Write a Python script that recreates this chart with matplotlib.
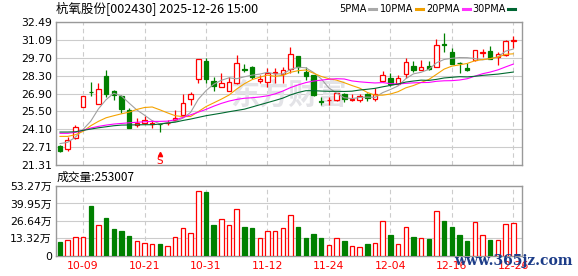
import numpy as np
import matplotlib
matplotlib.use("Agg")
import matplotlib.pyplot as plt
from matplotlib.patches import Rectangle

# daily candles 2025-09-26 .. 2025-12-26 (60 trading days)
opens = [22.84, 22.58, 23.43, 25.84, 27.03, 26.07, 28.27, 27.11, 26.69, 25.63,
         24.44, 24.62, 24.52, 24.55, 24.58, 24.86, 25.19, 26.51, 28.06, 29.41,
         27.88, 27.44, 27.06, 27.70, 28.84, 28.94, 27.88, 27.83, 28.48, 28.43,
         28.79, 29.82, 28.61, 28.32, 26.33, 26.36, 26.41, 26.87, 26.38, 26.41,
         26.87, 26.51, 27.91, 28.12, 27.62, 28.43, 29.05, 28.76, 29.05, 28.99,
         30.76, 30.13, 29.28, 28.89, 29.51, 30.06, 30.21, 29.77, 29.93, 30.96]
highs = [22.89, 23.51, 24.47, 26.69, 27.81, 27.75, 28.74, 27.18, 26.79, 25.76,
         24.98, 25.11, 24.83, 24.58, 24.83, 25.58, 26.87, 27.05, 29.57, 29.64,
         28.17, 28.53, 28.17, 29.93, 29.18, 29.05, 28.32, 28.92, 28.92, 28.99,
         30.50, 29.82, 28.99, 28.32, 26.59, 26.61, 26.95, 26.92, 26.87, 26.87,
         26.92, 27.31, 28.66, 28.53, 28.35, 29.69, 29.44, 29.51, 29.44, 31.11,
         31.58, 30.42, 29.33, 29.25, 30.26, 30.37, 30.60, 30.11, 31.07, 31.38]
lows = [22.35, 22.40, 23.35, 25.84, 26.72, 26.07, 26.59, 26.36, 25.42, 24.18,
        24.26, 24.49, 24.21, 23.87, 24.41, 24.86, 25.11, 25.97, 27.70, 27.70,
        27.13, 27.44, 27.06, 27.62, 28.61, 28.01, 27.75, 27.37, 27.75, 27.75,
        28.48, 28.48, 27.96, 26.72, 25.97, 26.02, 26.33, 26.23, 26.33, 26.25,
        26.28, 26.28, 27.78, 27.52, 27.62, 28.09, 28.58, 28.74, 28.74, 28.99,
        30.16, 29.18, 28.53, 28.66, 29.46, 29.77, 29.57, 29.10, 29.82, 30.42]
closes = [22.42, 23.30, 24.29, 26.69, 26.98, 27.24, 26.90, 26.77, 25.68, 24.18,
          24.57, 24.83, 24.62, 24.50, 24.64, 25.01, 26.15, 26.87, 29.57, 28.01,
          27.49, 27.70, 27.81, 29.25, 28.74, 28.17, 28.06, 28.53, 28.61, 28.71,
          29.95, 28.94, 28.30, 26.80, 26.20, 26.41, 26.95, 26.48, 26.46, 26.67,
          26.54, 26.87, 28.32, 27.65, 28.09, 29.33, 28.74, 28.94, 28.79, 30.65,
          30.65, 29.18, 29.25, 28.74, 30.26, 30.16, 29.62, 29.95, 30.99, 31.07]
# volume in 万手
volumes = [10.3, 12.3, 14.6, 14.6, 37.7, 23.8, 28.7, 20.3, 18.7, 14.9,
           11.5, 10.0, 8.7, 8.7, 7.7, 14.6, 21.5, 17.7, 49.2, 48.5,
           23.3, 28.2, 23.1, 35.4, 21.8, 21.0, 13.3, 18.5, 19.2, 21.5,
           31.0, 21.8, 13.3, 16.4, 13.3, 8.5, 13.8, 11.0, 7.7, 6.9,
           8.7, 9.5, 26.9, 15.6, 9.2, 22.3, 14.1, 13.8, 12.6, 33.8,
           26.4, 21.8, 15.6, 11.0, 25.4, 15.6, 11.8, 12.3, 24.1, 25.3]

ma5 = [23.00, 23.10, 23.50, 24.10, 24.74, 25.70, 26.42, 26.92, 26.71, 26.15,
       25.62, 25.21, 24.78, 24.54, 24.63, 24.72, 24.98, 25.43, 26.45, 27.12,
       27.62, 27.93, 28.12, 28.05, 28.20, 28.33, 28.41, 28.55, 28.42, 28.42,
       28.77, 28.95, 28.90, 28.54, 28.04, 27.33, 26.93, 26.57, 26.50, 26.59,
       26.62, 26.60, 26.97, 27.21, 27.49, 28.05, 28.43, 28.55, 28.78, 29.29,
       29.55, 29.64, 29.70, 29.69, 29.62, 29.52, 29.61, 29.75, 30.20, 30.36]
ma10 = [23.56, 23.56, 23.69, 23.95, 24.39, 24.73, 25.01, 25.17, 25.32, 25.45,
        25.66, 25.81, 25.85, 25.63, 25.39, 25.17, 25.10, 25.11, 25.49, 25.88,
        26.17, 26.46, 26.78, 27.25, 27.66, 27.98, 28.17, 28.33, 28.24, 28.31,
        28.55, 28.68, 28.73, 28.48, 28.23, 28.05, 27.94, 27.74, 27.52, 27.32,
        26.98, 26.77, 26.77, 26.86, 27.04, 27.34, 27.52, 27.76, 27.99, 28.39,
        28.80, 29.03, 29.13, 29.24, 29.45, 29.54, 29.62, 29.73, 29.95, 29.99]
ma20 = [23.80, 23.80, 23.87, 24.03, 24.21, 24.34, 24.44, 24.52, 24.57, 24.62,
        24.66, 24.70, 24.73, 24.73, 24.75, 24.85, 25.04, 25.24, 25.45, 25.66,
        25.91, 26.13, 26.31, 26.44, 26.53, 26.57, 26.63, 26.72, 26.87, 27.09,
        27.36, 27.57, 27.75, 27.87, 27.94, 28.01, 28.05, 28.03, 27.88, 27.81,
        27.76, 27.72, 27.75, 27.67, 27.64, 27.69, 27.73, 27.75, 27.76, 27.85,
        27.89, 27.90, 27.95, 28.05, 28.25, 28.44, 28.57, 28.74, 28.97, 29.19]
ma30 = [23.90, 23.90, 23.92, 24.03, 24.13, 24.23, 24.31, 24.39, 24.44, 24.45,
        24.46, 24.47, 24.47, 24.52, 24.60, 24.67, 24.80, 24.91, 25.04, 25.17,
        25.27, 25.37, 25.48, 25.58, 25.68, 25.85, 26.02, 26.19, 26.36, 26.54,
        26.79, 26.98, 27.12, 27.12, 27.09, 27.07, 27.07, 27.06, 27.08, 27.17,
        27.23, 27.30, 27.42, 27.53, 27.64, 27.79, 27.87, 27.94, 27.92, 28.00,
        28.11, 28.16, 28.21, 28.19, 28.24, 28.31, 28.36, 28.41, 28.49, 28.57]

price_ticks = [21.31, 22.71, 24.10, 25.50, 26.90, 28.30, 29.70, 31.09, 32.49]
vol_ticks = [0, 13.32, 26.64, 39.95, 53.27]
vol_labels = ["0", "13.32万", "26.64万", "39.95万", "53.27万"]
date_pos = [3, 11, 19, 27, 35, 43, 51, 59]
date_labels = ["10-09", "10-21", "10-31", "11-12", "11-24", "12-04", "12-16", "12-26"]
signal_idx = 13  # "S" marker

RED = "#ff0000"
GREEN = "#008000"
W, H = 578, 276
fonts = ["DejaVu Sans", "Noto Sans CJK SC"]

fig = plt.figure(figsize=(W / 100, H / 100), dpi=100)


def box(l, t, r, b):
    return [l / W, 1 - b / H, (r - l) / W, (b - t) / H]


ax = fig.add_axes(box(56, 21.7, 522, 165.3))
axv = fig.add_axes(box(56, 186, 522, 255.7))

n = len(closes)
bw = 0.58
for a in (ax, axv):
    a.set_xlim(-0.52, 60.13)
    for s in a.spines.values():
        s.set_color("#999999")
        s.set_linewidth(1)
    for xi in date_pos:
        a.axvline(xi, color="#cccccc", lw=0.8, ls=(0, (4, 3)), zorder=0.5)
    a.tick_params(length=0, labelsize=7.8, pad=3)

# faint site watermark behind the candles
ax.text(29.8, 26.8, "东方财富", fontsize=21, fontweight="bold", color="#e3e3e7",
        family="Noto Sans CJK SC", ha="center", va="center", zorder=0.6)

for i in range(n):
    o, h, l, c = opens[i], highs[i], lows[i], closes[i]
    up = c >= o
    col = RED if up else GREEN
    ax.vlines(i, l, h, color=col, lw=0.9, zorder=2)
    ax.add_patch(Rectangle((i - bw / 2, min(o, c)), bw, max(abs(c - o), 0.02),
                           facecolor="white" if up else GREEN, edgecolor=col,
                           lw=0.9, zorder=3))
    axv.add_patch(Rectangle((i - bw / 2, 0), bw, volumes[i],
                            facecolor="white" if up else GREEN, edgecolor=col,
                            lw=0.9, zorder=3))

x = np.arange(n)
ax.plot(x, ma5, color="#a0a0a0", lw=0.8, zorder=4)
ax.plot(x, ma10, color="#f5a300", lw=0.8, zorder=4)
ax.plot(x, ma20, color="#ff00ff", lw=0.8, zorder=4)
ax.plot(x, ma30, color="#006a30", lw=0.8, zorder=4)

ax.plot(signal_idx, 22.22, marker="^", color=RED, ms=3, zorder=5)
ax.text(signal_idx, 21.66, "S", color=RED, fontsize=7.5, ha="center", va="center", zorder=5)

ax.set_ylim(price_ticks[0], price_ticks[-1])
ax.set_yticks(price_ticks)
ax.set_yticklabels(["%.2f" % v for v in price_ticks], family=fonts)
ax.set_xticks([])
ax.yaxis.grid(True, color="#cccccc", lw=0.8, zorder=0)
ax.set_axisbelow(True)

axv.set_ylim(0, vol_ticks[-1])
axv.set_yticks(vol_ticks)
axv.set_yticklabels(vol_labels, family=fonts)
axv.set_xticks(date_pos)
axv.set_xticklabels(date_labels, color=RED, family=fonts)
axv.tick_params(axis="x", pad=4)
axv.yaxis.grid(True, color="#cccccc", lw=0.8, zorder=0)
axv.set_axisbelow(True)

# header, legend, volume caption
fig.text(56 / W, 1 - 9 / H, "杭氧股份[002430] 2025-12-26 15:00", fontsize=9,
         family=["Noto Sans CJK SC", "DejaVu Sans"], va="center")
legend = [("5PMA", 339, "#a9a9a9"), ("10PMA", 380, "#f0a000"),
          ("20PMA", 426, "#ff33ff"), ("30PMA", 472, "#006633")]
for name, px, col in legend:
    t = fig.text(px / W, 1 - 9 / H, name, fontsize=7, family=fonts, va="center")
    fig.canvas.draw()
    bb = t.get_window_extent()
    x0 = bb.x1 + 3
    fig.add_artist(plt.Line2D([x0 / W, (x0 + 7) / W], [1 - 9 / H] * 2,
                              color=col, lw=2.2, transform=fig.transFigure))
fig.text(57 / W, 1 - 177.5 / H, "成交量:253007", fontsize=8.5,
         family=["Noto Sans CJK SC", "DejaVu Sans"], va="center")
fig.text(513 / W, 1 - 261 / H, "www.365jz.com", fontsize=10, fontweight="bold",
         family="DejaVu Serif", color="#1c3c88", ha="center", va="center")

fig.savefig("out.png", dpi=100)
